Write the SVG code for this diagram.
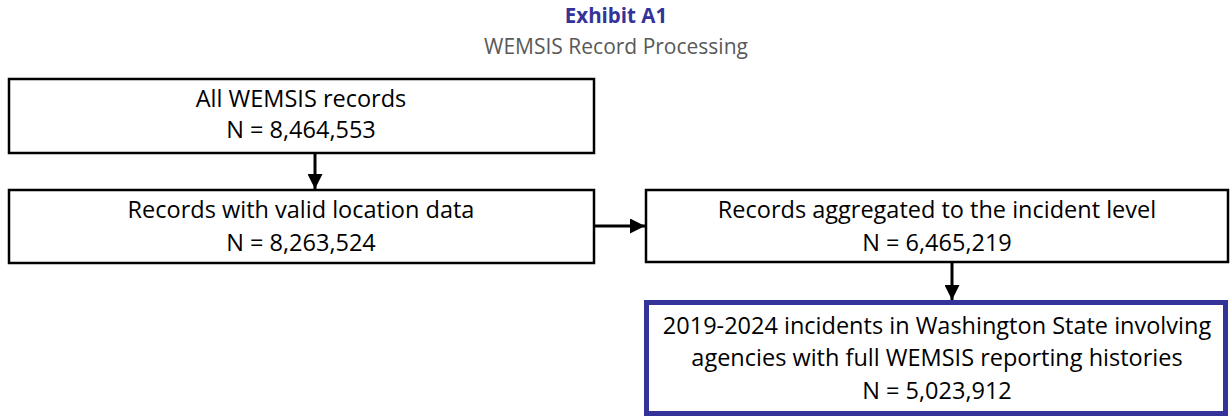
<svg xmlns="http://www.w3.org/2000/svg" width="1231" height="418" viewBox="0 0 1231 418">
<style>
.t{font-family:"Open Sans","Noto Sans",sans-serif;font-size:23.5px;fill:#000;text-anchor:middle}
.box{fill:#fff;stroke:#000;stroke-width:2.5}
.hl{fill:#fff;stroke:#333399;stroke-width:5}
.c{stroke:#000;stroke-width:3;fill:none}
</style>
<defs>
<marker id="ah" viewBox="0 0 10 10" refX="10" refY="5" markerWidth="5" markerHeight="5" markerUnits="strokeWidth" orient="auto">
<path d="M0,0 L10,5 L0,10 Z" fill="#000"/>
</marker>
</defs>
<rect width="1231" height="418" fill="#fff"/>
<text x="616" y="23" style="font-family:'Open Sans','Noto Sans',sans-serif;font-size:20.5px;font-weight:bold;fill:#333399;text-anchor:middle">Exhibit A1</text>
<text x="616" y="54" style="font-family:'Open Sans','Noto Sans',sans-serif;font-size:21px;fill:#595959;text-anchor:middle">WEMSIS Record Processing</text>
<g id="n1">
<rect class="box" x="9" y="79" width="585" height="74"/>
<text class="t" x="301" y="107">All WEMSIS records</text>
<text class="t" x="301" y="138">N = 8,464,553</text>
</g>
<g id="n2">
<rect class="box" x="9" y="190" width="585" height="73"/>
<text class="t" x="301" y="218">Records with valid location data</text>
<text class="t" x="301" y="251">N = 8,263,524</text>
</g>
<g id="n3">
<rect class="box" x="646" y="190" width="582" height="72"/>
<text class="t" x="937" y="218">Records aggregated to the incident level</text>
<text class="t" x="937" y="251">N = 6,465,219</text>
</g>
<g id="n4">
<rect class="hl" x="646.5" y="302.5" width="579" height="111"/>
<text class="t" x="937" y="334">2019-2024 incidents in Washington State involving</text>
<text class="t" x="937" y="366">agencies with full WEMSIS reporting histories</text>
<text class="t" x="937" y="399">N = 5,023,912</text>
</g>
<g id="connectors">
<line class="c" x1="315" y1="153" x2="315" y2="189" marker-end="url(#ah)"/>
<line class="c" x1="594" y1="226" x2="645" y2="226" marker-end="url(#ah)"/>
<line class="c" x1="952" y1="262" x2="952" y2="300" marker-end="url(#ah)"/>
</g>
</svg>
